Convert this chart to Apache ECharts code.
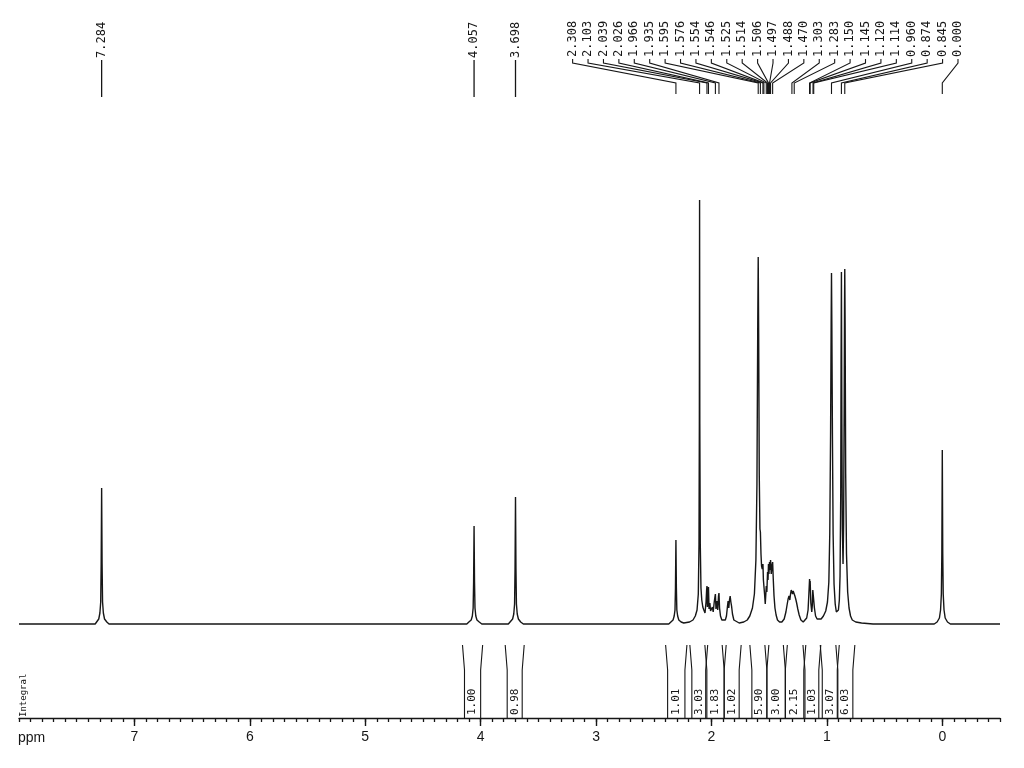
<!DOCTYPE html>
<html>
<head>
<meta charset="utf-8">
<script src="https://cdn.jsdelivr.net/npm/echarts@6/dist/echarts.min.js"></script>
<style>
html,body{margin:0;padding:0;background:#fff;}
#chart{width:1024px;height:768px;}
</style>
</head>
<body>
<div id="chart"></div>
<script>
// ---- data ----
// x tick labels (ppm)
const tickLabels = [0, 1, 2, 3, 4, 5, 6, 7];
// spectrum trace: [ppm, intensity] (baseline = 0)
const spectrum = [
[8.00,0],[7.60,0],[7.34,0],[7.329,2],[7.309,5],[7.299,11],[7.292,22],[7.288,60],[7.284,136],[7.280,60],[7.276,22],[7.269,11],[7.259,5],[7.239,2],[7.22,0],
[6.5,0],[5.5,0],[4.6,0],[4.12,0],[4.102,2],[4.082,4],[4.072,8],[4.065,16],[4.061,42],[4.057,98],[4.053,42],[4.049,16],[4.042,8],[4.032,4],[4.012,2],[3.99,0],
[3.76,0],[3.743,2],[3.723,5],[3.713,10],[3.706,20],[3.702,55],[3.698,127],[3.694,55],[3.690,20],[3.683,10],[3.673,5],[3.653,2],[3.63,0],
[3.0,0],[2.6,0],[2.37,0],[2.353,2],[2.333,4],[2.323,8],[2.316,14],[2.312,36],[2.308,84],[2.304,36],[2.300,14],[2.293,8],[2.283,4],[2.263,2],[2.24,1],
[2.19,2],[2.16,4],[2.14,8],[2.125,14],[2.114,30],[2.108,80],[2.105,200],[2.103,424],[2.101,200],[2.097,80],[2.091,36],[2.084,24],[2.075,17],[2.066,14],[2.056,11],
[2.047,22],[2.042,34],[2.039,38],[2.035,17],[2.030,25],[2.026,37],[2.021,15],[2.014,21],[2.008,13],[2.001,11],[1.992,17],[1.985,12],[1.976,22],[1.970,27],[1.966,30],[1.961,15],[1.953,23],[1.946,14],[1.939,28],[1.935,31],[1.930,16],[1.922,8],[1.910,4],[1.895,3],[1.880,4],[1.870,8],[1.862,17],[1.856,23],[1.850,16],[1.844,24],[1.838,28],[1.832,22],[1.826,18],[1.818,10],[1.806,4],[1.79,2],[1.76,1],[1.72,2],[1.69,4],[1.668,8],[1.645,16],[1.628,30],[1.615,64],[1.606,140],[1.599,300],[1.595,367],[1.591,290],[1.586,150],[1.580,95],[1.576,92],[1.571,70],[1.566,58],[1.560,55],[1.554,60],[1.550,44],[1.546,46],[1.540,30],[1.534,20],[1.529,18],[1.525,38],[1.520,32],[1.514,52],[1.510,44],[1.506,60],[1.502,50],[1.497,62],[1.493,54],[1.488,64],[1.482,50],[1.476,58],[1.470,62],[1.465,46],[1.458,28],[1.450,16],[1.440,9],[1.428,4],[1.41,2],[1.39,2],
[1.37,5],[1.355,12],[1.345,19],[1.336,25],[1.328,28],[1.321,24],[1.315,30],[1.309,34],[1.303,36],[1.298,30],[1.292,33],[1.287,31],[1.283,34],[1.277,28],[1.270,25],[1.262,21],[1.252,15],[1.240,9],[1.225,4],[1.205,2],[1.19,3],[1.175,6],[1.163,14],[1.156,30],[1.150,45],[1.147,38],[1.145,43],[1.139,21],[1.131,12],[1.126,19],[1.122,34],[1.120,32],[1.114,36],[1.108,16],[1.098,8],[1.085,5],[1.07,4],[1.05,5],[1.03,8],[1.01,13],[0.995,22],[0.983,42],[0.975,90],[0.968,190],[0.963,300],[0.960,351],[0.957,300],[0.952,190],[0.946,90],[0.938,40],[0.928,20],[0.918,12],[0.908,10],[0.900,14],[0.892,24],[0.886,48],[0.880,130],[0.877,260],[0.874,352],[0.870,200],[0.866,95],[0.860,60],[0.855,100],[0.850,220],[0.847,320],[0.845,355],[0.842,300],[0.837,150],[0.830,70],[0.820,32],[0.808,16],[0.795,8],[0.78,4],[0.75,2],[0.70,1],[0.6,0],
[0.2,0],[0.07,0],[0.045,2],[0.025,6],[0.015,14],[0.008,30],[0.004,70],[0,174],[-0.004,70],[-0.008,30],[-0.015,14],[-0.025,6],[-0.045,2],[-0.07,0],[-0.5,0]
];
// peak labels drawn straight above their peak
const singleLabels = ['7.284', '4.057', '3.698'];
// peak labels drawn as a fan
const fanLabels = ['2.308','2.103','2.039','2.026','1.966','1.935','1.595','1.576','1.554','1.546','1.525','1.514','1.506','1.497','1.488','1.470','1.303','1.283','1.150','1.145','1.120','1.114','0.960','0.874','0.845','0.000'];
// integral regions: from ppm, to ppm, value
const integralFrom = [4.14, 3.77, 2.38, 2.17, 2.04, 1.89, 1.65, 1.52, 1.36, 1.19, 1.04, 0.905];
const integralTo   = [4.00, 3.64, 2.23, 2.05, 1.89, 1.76, 1.52, 1.36, 1.20, 1.07, 0.91, 0.775];
const integralVal  = ['1.00','0.98','1.01','3.03','1.83','1.02','5.90','3.00','2.15','1.03','3.07','6.03'];

// ---- layout constants ----
const FAN_LEFT_PPM = 3.203, FAN_RIGHT_PPM = -0.136;
const INK = '#161616';
const MONO = '"DejaVu Sans Mono", monospace';

const chart = echarts.init(document.getElementById('chart'), null, {renderer: 'canvas'});

function singleRender(params, api) {
  const cs = params.coordSys;
  const px = api.coord([api.value(0), 0])[0];
  const text = singleLabels[params.dataIndex];
  return {
    type: 'group',
    children: [
      {type: 'polyline', shape: {points: [[px, cs.y + 40], [px, cs.y + 77]]}, style: {stroke: INK, lineWidth: 1.3, fill: null}},
      {type: 'text', x: px, y: cs.y + 38, rotation: Math.PI / 2,
       style: {text: text, font: '12px ' + MONO, fill: INK, align: 'left', verticalAlign: 'middle'}}
    ]
  };
}
function fanRender(params, api) {
  const cs = params.coordSys;
  const px = api.coord([api.value(0), 0])[0];
  const i = api.value(1);
  const x0 = api.coord([FAN_LEFT_PPM, 0])[0];
  const x1 = api.coord([FAN_RIGHT_PPM, 0])[0];
  const lx = x0 + (x1 - x0) * i / (fanLabels.length - 1);
  return {
    type: 'group',
    children: [
      {type: 'polyline', shape: {points: [[lx, cs.y + 39], [lx, cs.y + 43], [px, cs.y + 63], [px, cs.y + 74]]},
       style: {stroke: INK, lineWidth: 1.1, fill: null}},
      {type: 'text', x: lx, y: cs.y + 37, rotation: Math.PI / 2,
       style: {text: fanLabels[i], font: '12px ' + MONO, fill: INK, align: 'left', verticalAlign: 'middle'}}
    ]
  };
}
function integralRender(params, api) {
  const cs = params.coordSys;
  const xa = api.coord([api.value(0), 0])[0];
  const xb = api.coord([api.value(1), 0])[0];
  const axisY = cs.y + cs.height;
  const topY = axisY - 73;
  const kinkY = axisY - 48;
  return {
    type: 'group',
    children: [
      {type: 'polyline', shape: {points: [[xa - 2, topY], [xa, kinkY], [xa, axisY]]}, style: {stroke: INK, lineWidth: 1.1, fill: null}},
      {type: 'polyline', shape: {points: [[xb + 2, topY], [xb, kinkY], [xb, axisY]]}, style: {stroke: INK, lineWidth: 1.1, fill: null}},
      {type: 'text', x: (xa + xb) / 2, y: axisY - 3, rotation: Math.PI / 2,
       style: {text: integralVal[params.dataIndex], font: '11px ' + MONO, fill: INK, align: 'left', verticalAlign: 'middle'}}
    ]
  };
}

const option = {
  backgroundColor: '#ffffff',
  animation: false,
  grid: {left: 19, right: 24, top: 20, bottom: 50},
  xAxis: [
    {
      type: 'value', min: -0.5, max: 8, inverse: true, position: 'bottom',
      axisLine: {show: true, onZero: false, lineStyle: {color: INK, width: 1.4}},
      axisTick: {show: true, length: 8, customValues: tickLabels, lineStyle: {color: INK, width: 1.4}},
      axisLabel: {show: true, customValues: tickLabels, margin: 12, fontSize: 14,
                  fontFamily: '"Liberation Sans", Arial, sans-serif', color: INK},
      splitLine: {show: false}
    },
    {
      type: 'value', min: -0.5, max: 8, interval: 0.1, inverse: true, position: 'bottom', gridIndex: 0,
      axisLine: {show: false, onZero: false},
      axisTick: {show: true, length: 4, lineStyle: {color: INK, width: 1.3}},
      axisLabel: {show: false},
      splitLine: {show: false}
    }
  ],
  yAxis: {type: 'value', min: -94, max: 604, show: false, splitLine: {show: false}},
  graphic: [
    {type: 'text', left: 18, top: 731, style: {text: 'ppm', font: '14px "Liberation Sans", Arial, sans-serif', fill: INK}},
    {type: 'text', x: 24, y: 717, rotation: Math.PI / 2,
     style: {text: 'Integral', font: '9px ' + MONO, fill: INK, align: 'left', verticalAlign: 'middle'}}
  ],
  series: [
    {
      type: 'line', data: spectrum, showSymbol: false, symbol: 'none', xAxisIndex: 0,
      lineStyle: {color: INK, width: 1.4}, silent: true
    },
    {
      type: 'custom', xAxisIndex: 0, clip: false, silent: true,
      data: singleLabels.map((t, i) => [parseFloat(t), i]),
      renderItem: singleRender
    },
    {
      type: 'custom', xAxisIndex: 0, clip: false, silent: true,
      data: fanLabels.map((t, i) => [parseFloat(t), i]),
      renderItem: fanRender
    },
    {
      type: 'custom', xAxisIndex: 0, clip: false, silent: true,
      data: integralFrom.map((f, i) => [f, integralTo[i], parseFloat(integralVal[i])]),
      renderItem: integralRender
    }
  ]
};
chart.setOption(option);
</script>
</body>
</html>
